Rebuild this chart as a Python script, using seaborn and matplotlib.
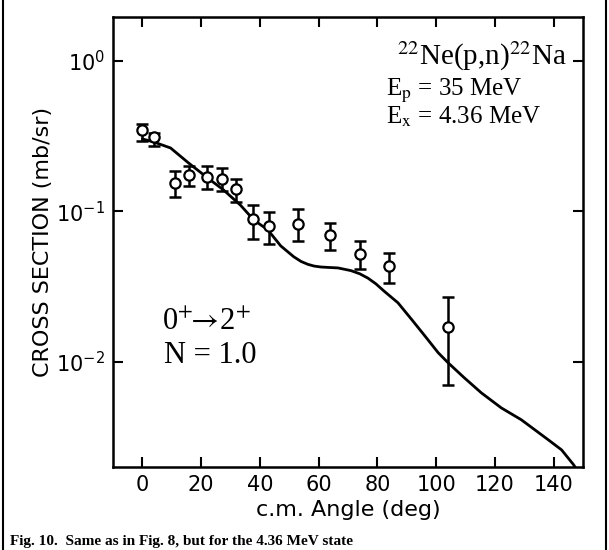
import matplotlib
matplotlib.use("Agg")
import matplotlib.pyplot as plt
import seaborn as sns
import numpy as np
import pandas as pd
from matplotlib.lines import Line2D
from matplotlib.ticker import LogLocator, FixedLocator

# ---- data ----
angle_data = [0, 4, 11, 16, 22, 27, 32, 37.5, 43, 53, 64, 74, 84, 104]
xs_data = [0.348, 0.313, 0.155, 0.175, 0.170, 0.164, 0.141, 0.089, 0.080,
           0.0826, 0.0698, 0.0522, 0.0435, 0.0171]
xs_low = [0.294, 0.272, 0.125, 0.148, 0.141, 0.137, 0.116, 0.0657, 0.0608,
          0.0637, 0.0555, 0.0415, 0.0335, 0.00703]
xs_high = [0.381, 0.332, 0.186, 0.200, 0.200, 0.195, 0.164, 0.110, 0.099,
           0.104, 0.084, 0.0637, 0.053, 0.027]

angle_curve = [0, 3.75, 9.6, 15.7, 22.2, 27.6, 33.4, 37.9, 42.7, 47.1, 51.5,
               54.0, 56.3, 58.5, 60.8, 63.5, 66.6, 71, 74, 76.8, 79.5, 82.3,
               87, 91.5, 95.9, 100.7, 104.1, 109.6, 115.4, 122.2, 129, 138.2,
               142.7, 146.8, 148]
xs_curve = [0.303, 0.290, 0.264, 0.210, 0.167, 0.139, 0.110, 0.0878, 0.0754,
            0.0590, 0.0500, 0.0465, 0.0445, 0.0433, 0.0427, 0.0424, 0.0421,
            0.0404, 0.0385, 0.0360, 0.0330, 0.0295, 0.0247, 0.0193, 0.0151,
            0.0115, 0.00985, 0.00783, 0.00622, 0.00494, 0.00412, 0.00303,
            0.0026, 0.00207, 0.0019]

x_ticks = [0, 20, 40, 60, 80, 100, 120, 140]

sns.set_theme(style="ticks")
plt.rcParams['font.family'] = ['DejaVu Sans']

W, H = 609, 550
fig = plt.figure(figsize=(W / 100, H / 100), dpi=100)
ax = fig.add_axes([113 / W, 1 - 467 / H, (583 - 113) / W, (467 - 17) / H])

df_curve = pd.DataFrame({"angle": angle_curve, "xs": xs_curve})
df_data = pd.DataFrame({"angle": angle_data, "xs": xs_data})

sns.lineplot(data=df_curve, x="angle", y="xs", ax=ax, color="black",
             linewidth=2.0, sort=True, estimator=None)

yerr = [np.array(xs_data) - np.array(xs_low), np.array(xs_high) - np.array(xs_data)]
ax.errorbar(angle_data, xs_data, yerr=yerr, fmt="none", ecolor="black",
            elinewidth=1.8, capsize=4, capthick=1.8, zorder=3)
sns.scatterplot(data=df_data, x="angle", y="xs", ax=ax, marker="o",
                s=55, facecolor="white", edgecolor="black", linewidth=1.6,
                zorder=4)

ax.set_yscale("log")
ax.set_xlim(-10, 150)
ax.set_ylim(2.0e-3, 1.96)
ax.xaxis.set_major_locator(FixedLocator(x_ticks))
ax.yaxis.set_major_locator(LogLocator(base=10, numticks=10))
ax.yaxis.set_minor_locator(FixedLocator([]))
ax.tick_params(axis="both", which="major", direction="in", length=7,
               width=1.5, top=True, right=True, labelsize=15, pad=6,
               color="black", labelcolor="black")
ax.tick_params(axis="both", which="minor", length=0)
for sp in ax.spines.values():
    sp.set_linewidth(1.8)
    sp.set_color("black")

ax.set_xlabel("c.m. Angle (deg)", fontsize=16, labelpad=3, color="black")
ax.set_ylabel("CROSS SECTION (mb/sr)", fontsize=16, labelpad=2, color="black")

serif = ["Liberation Serif", "DejaVu Serif"]
ax.text(0.965, 0.895, r"$^{22}$Ne(p,n)$^{22}$Na", transform=ax.transAxes,
        ha="right", va="baseline", fontsize=21, family=serif,
        math_fontfamily="stix", color="black")
ax.text(0.58, 0.825, r"E$_{\rm p}$ = 35 MeV", transform=ax.transAxes,
        ha="left", va="baseline", fontsize=18, family=serif,
        math_fontfamily="stix", color="black")
ax.text(0.58, 0.763, r"E$_{\rm x}$ = 4.36 MeV", transform=ax.transAxes,
        ha="left", va="baseline", fontsize=18, family=serif,
        math_fontfamily="stix", color="black")
ax.text(0.105, 0.305, r"0$^{+}\!\!\rightarrow\!$2$^{+}$", transform=ax.transAxes,
        ha="left", va="baseline", fontsize=22, family=serif,
        math_fontfamily="stix", color="black")
ax.text(0.108, 0.232, "N = 1.0", transform=ax.transAxes,
        ha="left", va="baseline", fontsize=22, family=serif,
        color="black")

# scan frame lines and caption
fig.add_artist(Line2D([2.5 / W, 2.5 / W], [0, 1], transform=fig.transFigure,
                      color="black", linewidth=1.5))
fig.add_artist(Line2D([606 / W, 606 / W], [0, 1], transform=fig.transFigure,
                      color="black", linewidth=1.5))
fig.text(10 / W, 1 - 535 / H, "Fig. 10.  Same as in Fig. 8, but for the 4.36 MeV state",
         ha="left", va="top", fontsize=11, family=serif, weight="bold",
         color="black")

fig.savefig("out.png", dpi=100, facecolor="white")
